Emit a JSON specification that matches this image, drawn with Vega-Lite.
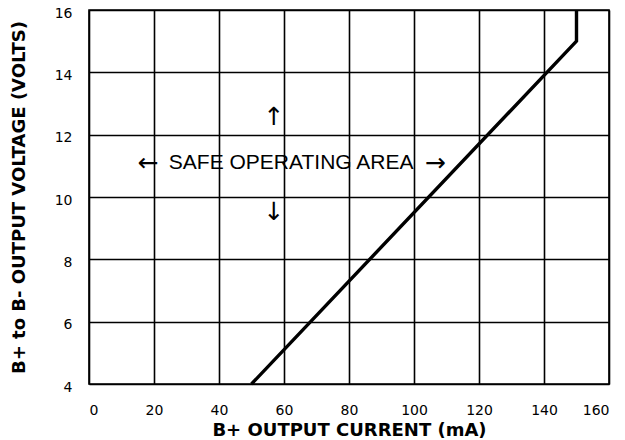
{
  "$schema": "https://vega.github.io/schema/vega-lite/v6.json",
  "width": 520,
  "height": 374,
  "autosize": "none",
  "padding": {"left": 89, "top": 10, "right": 16, "bottom": 56},
  "background": "white",
  "config": {
    "view": {"stroke": "black", "strokeWidth": 1.6},
    "axis": {
      "grid": true,
      "gridColor": "black",
      "gridOpacity": 1,
      "gridWidth": 1.6,
      "domain": false,
      "ticks": false,
      "tickSize": 0,
      "labelFont": "DejaVu Sans",
      "labelFontSize": 14,
      "labelColor": "black",
      "titleFont": "DejaVu Sans",
      "titleFontSize": 18,
      "titleFontWeight": "bold",
      "titleColor": "black"
    }
  },
  "datasets": {
    "curve": [
      {"current": 50, "voltage": 4},
      {"current": 150, "voltage": 15},
      {"current": 150, "voltage": 16}
    ],
    "label": [
      {"current": 62.2, "voltage": 11.09, "text": "SAFE OPERATING AREA"}
    ],
    "arrows": [
      {"current": 18.2, "voltage": 11.09, "text": "←"},
      {"current": 106.5, "voltage": 11.09, "text": "→"},
      {"current": 56.9, "voltage": 12.57, "text": "↑"},
      {"current": 56.9, "voltage": 9.52, "text": "↓"}
    ]
  },
  "layer": [
    {
      "data": {"name": "curve"},
      "mark": {"type": "line", "color": "black", "strokeWidth": 3.4, "strokeJoin": "miter"},
      "encoding": {
        "x": {
          "field": "current", "type": "quantitative",
          "scale": {"domain": [0, 160], "nice": false},
          "axis": {
            "values": [0, 20, 40, 60, 80, 100, 120, 140, 160],
            "labelBaseline": "alphabetic",
            "labelPadding": 30,
            "title": "B+ OUTPUT CURRENT (mA)",
            "titleX": 260,
            "titleY": 51,
            "titleBaseline": "alphabetic"
          }
        },
        "y": {
          "field": "voltage", "type": "quantitative",
          "scale": {"domain": [4, 16], "nice": false, "zero": false},
          "axis": {
            "values": [4, 6, 8, 10, 12, 14, 16],
            "labelPadding": 17,
            "labelOffset": 3,
            "title": "B+ to B- OUTPUT VOLTAGE (VOLTS)",
            "titleX": -70,
            "titleY": 187,
            "titleAngle": -90,
            "titleAlign": "center",
            "titleBaseline": "middle"
          }
        },
        "order": {"field": "voltage"}
      }
    },
    {
      "data": {"name": "label"},
      "mark": {"type": "text", "font": "Liberation Sans", "fontSize": 21, "color": "black", "align": "center", "baseline": "middle"},
      "encoding": {
        "x": {"field": "current", "type": "quantitative"},
        "y": {"field": "voltage", "type": "quantitative"},
        "text": {"field": "text"}
      }
    },
    {
      "data": {"name": "arrows"},
      "mark": {"type": "text", "font": "DejaVu Sans", "fontSize": 25, "fontWeight": "normal", "color": "black", "align": "center", "baseline": "middle"},
      "encoding": {
        "x": {"field": "current", "type": "quantitative"},
        "y": {"field": "voltage", "type": "quantitative"},
        "text": {"field": "text"}
      }
    }
  ]
}
